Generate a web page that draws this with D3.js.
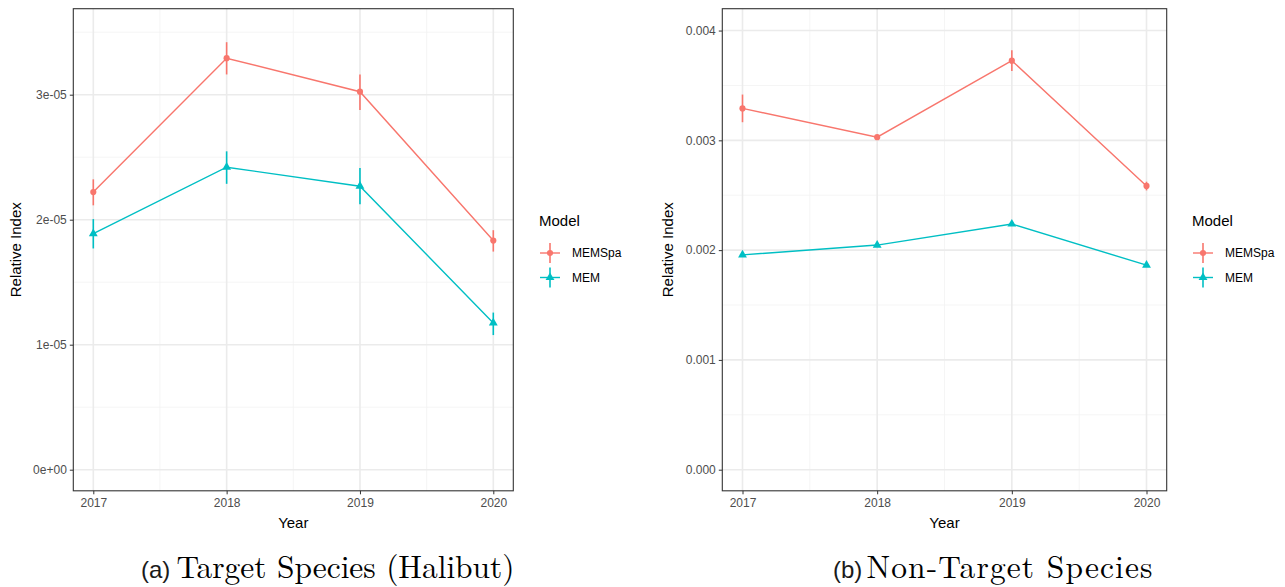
<!DOCTYPE html>
<html>
<head>
<meta charset="utf-8">
<script src="https://cdn.jsdelivr.net/npm/d3@7/dist/d3.min.js"></script>
<style>
  html, body { margin: 0; padding: 0; background: #fff; }
  svg { display: block; }
</style>
</head>
<body>
<svg id="chart" width="1285" height="587"></svg>
<script>
// ---------------- DATA ----------------
const years = [2017, 2018, 2019, 2020];
const xTickLabels = ["2017", "2018", "2019", "2020"];
const models = ["MEMSpa", "MEM"];
const modelColors = ["#F8766D", "#00BFC4"];

// Panel (a): Target Species (Halibut)
const halibutMEMSpa    = [2.221e-5, 3.292e-5, 3.024e-5, 1.833e-5];
const halibutMEMSpaLo  = [2.115e-5, 3.162e-5, 2.877e-5, 1.745e-5];
const halibutMEMSpaHi  = [2.323e-5, 3.420e-5, 3.162e-5, 1.916e-5];
const halibutMEM       = [1.889e-5, 2.420e-5, 2.268e-5, 1.174e-5];
const halibutMEMLo     = [1.770e-5, 2.287e-5, 2.124e-5, 1.077e-5];
const halibutMEMHi     = [2.005e-5, 2.547e-5, 2.414e-5, 1.257e-5];
const halibutYTicks      = [0, 1e-5, 2e-5, 3e-5];
const halibutYTickLabels = ["0e+00", "1e-05", "2e-05", "3e-05"];
const halibutYMinor      = [0.5e-5, 1.5e-5, 2.5e-5, 3.5e-5];

// Panel (b): Non-Target Species
const nonTargetMEMSpa   = [3.291e-3, 3.029e-3, 3.726e-3, 2.585e-3];
const nonTargetMEMSpaLo = [3.165e-3, 3.012e-3, 3.631e-3, 2.544e-3];
const nonTargetMEMSpaHi = [3.417e-3, 3.046e-3, 3.821e-3, 2.623e-3];
const nonTargetMEM      = [1.957e-3, 2.046e-3, 2.238e-3, 1.863e-3];
const nonTargetMEMLo    = [1.947e-3, 2.036e-3, 2.228e-3, 1.853e-3];
const nonTargetMEMHi    = [1.967e-3, 2.056e-3, 2.248e-3, 1.873e-3];
const nonTargetYTicks      = [0, 0.001, 0.002, 0.003, 0.004];
const nonTargetYTickLabels = ["0.000", "0.001", "0.002", "0.003", "0.004"];
const nonTargetYMinor      = [0.0005, 0.0015, 0.0025, 0.0035];

const xMinor = [2017.5, 2018.5, 2019.5];

const captionA = { tag: "(a)", text: "Target Species (Halibut)" };
const captionB = { tag: "(b)", text: "Non-Target Species" };

// ---------------- DRAWING ----------------
const svg = d3.select("#chart");
const sans = "Arial, 'Liberation Sans', Helvetica, sans-serif";
const serif = "'Latin Modern Roman', 'CMU Serif', 'Liberation Serif', 'DejaVu Serif', serif";

function buildSeries(vals, lo, hi) {
  return years.map((y, i) => ({ year: y, v: vals[i], lo: lo[i], hi: hi[i] }));
}

function drawPanel(cfg) {
  const g = svg.append("g");
  const x = d3.scaleLinear().domain([2016.85, 2020.15]).range([cfg.left, cfg.right]);
  const y = d3.scaleLinear().domain(cfg.yDomain).range([cfg.bottom, cfg.top]);

  // grid
  const grid = g.append("g");
  grid.selectAll(".ymin").data(cfg.yMinor).join("line")
    .attr("x1", cfg.left).attr("x2", cfg.right)
    .attr("y1", d => y(d)).attr("y2", d => y(d))
    .attr("stroke", "#F2F2F2").attr("stroke-width", 0.8);
  grid.selectAll(".xmin").data(xMinor).join("line")
    .attr("y1", cfg.top).attr("y2", cfg.bottom)
    .attr("x1", d => x(d)).attr("x2", d => x(d))
    .attr("stroke", "#F2F2F2").attr("stroke-width", 0.8);
  grid.selectAll(".ymaj").data(cfg.yTicks).join("line")
    .attr("x1", cfg.left).attr("x2", cfg.right)
    .attr("y1", d => y(d)).attr("y2", d => y(d))
    .attr("stroke", "#EBEBEB").attr("stroke-width", 1.6);
  grid.selectAll(".xmaj").data(years).join("line")
    .attr("y1", cfg.top).attr("y2", cfg.bottom)
    .attr("x1", d => x(d)).attr("x2", d => x(d))
    .attr("stroke", "#EBEBEB").attr("stroke-width", 1.6);

  // axes
  const xAxis = d3.axisBottom(x).tickValues(years)
    .tickFormat((d, i) => xTickLabels[i]).tickSize(3.5).tickPadding(4);
  const gx = g.append("g").attr("transform", `translate(0,${cfg.bottom})`).call(xAxis);
  gx.select(".domain").remove();
  gx.selectAll(".tick line").attr("stroke", "#333333").attr("stroke-width", 1);
  gx.selectAll(".tick text").attr("fill", "#4D4D4D")
    .style("font-family", sans).style("font-size", "12px");

  const yAxis = d3.axisLeft(y).tickValues(cfg.yTicks)
    .tickFormat((d, i) => cfg.yTickLabels[i]).tickSize(3.5).tickPadding(3);
  const gy = g.append("g").attr("transform", `translate(${cfg.left},0)`).call(yAxis);
  gy.select(".domain").remove();
  gy.selectAll(".tick line").attr("stroke", "#333333").attr("stroke-width", 1);
  gy.selectAll(".tick text").attr("fill", "#4D4D4D")
    .style("font-family", sans).style("font-size", "12px");

  // series
  cfg.series.forEach((s, si) => {
    const col = modelColors[si];
    const line = d3.line().x(d => x(d.year)).y(d => y(d.v));
    g.append("path").datum(s).attr("d", line)
      .attr("fill", "none").attr("stroke", col).attr("stroke-width", 1.4);
    g.selectAll(null).data(s).join("line")
      .attr("x1", d => x(d.year)).attr("x2", d => x(d.year))
      .attr("y1", d => y(d.lo)).attr("y2", d => y(d.hi))
      .attr("stroke", col).attr("stroke-width", 1.6);
    const sym = si === 0 ? d3.symbol(d3.symbolCircle, 30) : d3.symbol(d3.symbolTriangle, 34);
    g.selectAll(null).data(s).join("path")
      .attr("transform", d => `translate(${x(d.year)},${y(d.v)})`)
      .attr("d", sym).attr("fill", col);
  });

  // panel border
  g.append("rect").attr("x", cfg.left).attr("y", cfg.top)
    .attr("width", cfg.right - cfg.left).attr("height", cfg.bottom - cfg.top)
    .attr("fill", "none").attr("stroke", "#333333").attr("stroke-width", 1.1);

  // axis titles
  g.append("text").attr("x", (cfg.left + cfg.right) / 2).attr("y", cfg.bottom + 37)
    .attr("text-anchor", "middle").style("font-family", sans).style("font-size", "15px")
    .attr("fill", "#000").text("Year");
  g.append("text")
    .attr("transform", `translate(${cfg.yTitleX},${(cfg.top + cfg.bottom) / 2}) rotate(-90)`)
    .attr("text-anchor", "middle").style("font-family", sans).style("font-size", "15px")
    .attr("fill", "#000").text("Relative Index");

  // legend
  const lg = g.append("g");
  lg.append("text").attr("x", cfg.legendX).attr("y", cfg.legendY)
    .style("font-family", sans).style("font-size", "15px").attr("fill", "#000").text("Model");
  models.forEach((m, i) => {
    const cy = cfg.legendY + 27 + i * 24.5;
    const cx = cfg.legendX + 11;
    const col = modelColors[i];
    lg.append("line").attr("x1", cx - 10).attr("x2", cx + 10).attr("y1", cy).attr("y2", cy)
      .attr("stroke", col).attr("stroke-width", 1.4);
    lg.append("line").attr("x1", cx).attr("x2", cx).attr("y1", cy - 10).attr("y2", cy + 10)
      .attr("stroke", col).attr("stroke-width", 1.6);
    const sym = i === 0 ? d3.symbol(d3.symbolCircle, 30) : d3.symbol(d3.symbolTriangle, 34);
    lg.append("path").attr("transform", `translate(${cx},${cy})`).attr("d", sym).attr("fill", col);
    lg.append("text").attr("x", cx + 22).attr("y", cy + 4.3)
      .style("font-family", sans).style("font-size", "12px").attr("fill", "#000").text(m);
  });

  // caption
  g.append("text").attr("x", cfg.captionX).attr("y", 578)
    .style("font-family", sans).style("font-size", "24px").attr("fill", "#1a1a1a")
    .text(cfg.caption.tag);
  g.append("text").attr("x", cfg.captionTextX).attr("y", 578)
    .style("font-family", serif).style("font-size", "31.5px").attr("fill", "#000")
    .attr("textLength", cfg.captionTextLen).attr("lengthAdjust", "spacing")
    .text(cfg.caption.text);
}

drawPanel({
  left: 73.3, right: 513.3, top: 8.7, bottom: 490.8,
  yDomain: [-0.1688e-5, 3.688e-5],
  yTicks: halibutYTicks, yTickLabels: halibutYTickLabels, yMinor: halibutYMinor,
  series: [buildSeries(halibutMEMSpa, halibutMEMSpaLo, halibutMEMSpaHi),
           buildSeries(halibutMEM, halibutMEMLo, halibutMEMHi)],
  yTitleX: 21, legendX: 539, legendY: 226,
  caption: captionA, captionX: 141, captionTextX: 176.5, captionTextLen: 338
});

drawPanel({
  left: 722.3, right: 1166.7, top: 8.7, bottom: 490.8,
  yDomain: [-0.1922e-3, 4.199e-3],
  yTicks: nonTargetYTicks, yTickLabels: nonTargetYTickLabels, yMinor: nonTargetYMinor,
  series: [buildSeries(nonTargetMEMSpa, nonTargetMEMSpaLo, nonTargetMEMSpaHi),
           buildSeries(nonTargetMEM, nonTargetMEMLo, nonTargetMEMHi)],
  yTitleX: 673, legendX: 1192, legendY: 226,
  caption: captionB, captionX: 833, captionTextX: 866.5, captionTextLen: 286
});
</script>
</body>
</html>
